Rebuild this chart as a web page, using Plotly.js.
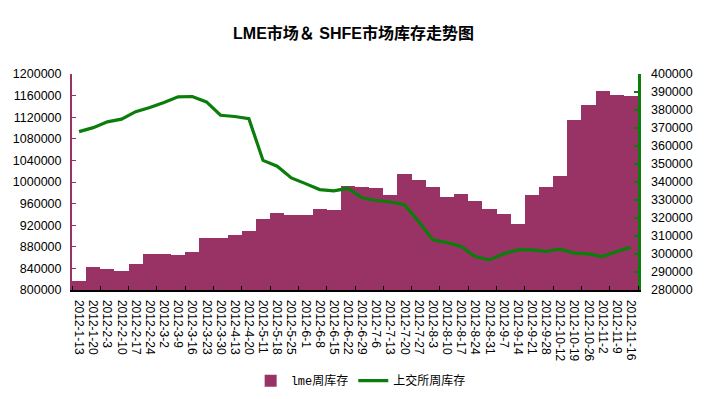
<!DOCTYPE html>
<html>
<head>
<meta charset="utf-8">
<script src="https://cdn.plot.ly/plotly-3.0.1.min.js"></script>
<style>html,body{margin:0;padding:0;background:#fff;}#chart{width:707px;height:399px;}</style>
</head>
<body>
<div id="chart"></div>
<script>
const dates = ["2012-1-13","2012-1-20","2012-2-3","2012-2-10","2012-2-17","2012-2-24","2012-3-2","2012-3-9","2012-3-16","2012-3-23","2012-3-30","2012-4-13","2012-4-20","2012-5-11","2012-5-18","2012-5-25","2012-6-1","2012-6-8","2012-6-15","2012-6-22","2012-6-29","2012-7-6","2012-7-13","2012-7-20","2012-7-27","2012-8-3","2012-8-10","2012-8-17","2012-8-24","2012-8-31","2012-9-7","2012-9-14","2012-9-21","2012-9-28","2012-10-12","2012-10-19","2012-10-26","2012-11-2","2012-11-9","2012-11-16"];
const lmeStock = [816700,842600,838900,835200,848100,866700,866700,864800,870400,896300,896300,901900,909300,931500,942600,938900,938900,950000,948100,992600,990700,988900,975900,1014800,1003700,990700,972200,977800,964800,950000,940700,922200,975900,990700,1011100,1114800,1142600,1168500,1161100,1159300];
const shfeStock = [368000,370200,373400,374900,379100,381400,384200,387300,387500,384500,377100,376400,375200,352000,348800,342300,339100,335800,335100,336500,331200,329700,328900,327400,318100,307900,306400,304200,298600,296700,300100,302300,302300,301400,302700,300500,300100,298600,301400,303800];
const leftTicks = [800000,840000,880000,920000,960000,1000000,1040000,1080000,1120000,1160000,1200000];
const rightTicks = [280000,290000,300000,310000,320000,330000,340000,350000,360000,370000,380000,390000,400000];

const idx = dates.map((d,i)=>i);
const maroon = '#993366';
const green = '#0a7d0a';

const traces = [
  {type:'bar', name:'lme周库存', x: idx, y: lmeStock, marker:{color: maroon, line:{width:0}}, yaxis:'y', hoverinfo:'skip'},
  {type:'scatter', mode:'lines', name:'上交所周库存', x: idx, y: shfeStock, line:{color: green, width:3.2}, yaxis:'y2', hoverinfo:'skip'}
];

const layout = {
  width:707, height:399,
  margin:{l:72, r:69, t:74, b:109, autoexpand:false},
  paper_bgcolor:'#fff', plot_bgcolor:'rgba(0,0,0,0)',
  font:{family:'Arial, Liberation Sans, Noto Sans CJK SC', size:12, color:'#000'},
  title:{text:'<b>LME市场＆ SHFE市场库存走势图</b>', x:0.5, xanchor:'center', y:0.917, yanchor:'middle', font:{size:16, family:'Arial, Liberation Sans, Noto Sans CJK SC', color:'#000'}},
  bargap:0,
  showlegend:true,
  legend:{orientation:'h', x:0.51, xanchor:'center', y:-0.42, yanchor:'middle', font:{family:'Liberation Mono, Noto Sans CJK SC', size:12}, itemwidth:30, tracegroupgap:0},
  xaxis:{
    automargin:false,
    range:[-0.5, 39.5], showgrid:false, zeroline:false,
    tickmode:'array', tickvals: idx, ticktext: dates, tickangle:90,
    ticks:'', showline:true, linecolor:'#000', linewidth:1.5, ticklabelstandoff:6,
    tickfont:{size:12, family:'Arial, Liberation Sans'},
    minor:{tickmode:'linear', tick0:-0.5, dtick:2, ticks:'inside', ticklen:4, tickcolor:'#000', tickwidth:1, showgrid:false}
  },
  yaxis:{
    automargin:false,
    range:[800000,1200000], tickmode:'array', tickvals:leftTicks, ticktext:leftTicks.map(String),
    showgrid:false, zeroline:false, showline:true, linecolor:maroon, linewidth:2,
    ticks:'inside', ticklen:4, tickcolor:maroon, tickwidth:1, ticklabelstandoff:6,
    tickfont:{size:12.5, family:'Arial, Liberation Sans'}
  },
  yaxis2:{
    automargin:false,
    overlaying:'y', side:'right', range:[280000,400000], tickmode:'array', tickvals:rightTicks, ticktext:rightTicks.map(String),
    showgrid:false, zeroline:false, showline:true, linecolor:green, linewidth:2.5,
    ticks:'inside', ticklen:4, tickcolor:green, tickwidth:1.5, ticklabelstandoff:8,
    tickfont:{size:12.5, family:'Arial, Liberation Sans'}
  }
};

Plotly.newPlot('chart', traces, layout, {displayModeBar:false, staticPlot:true});
</script>
</body>
</html>
